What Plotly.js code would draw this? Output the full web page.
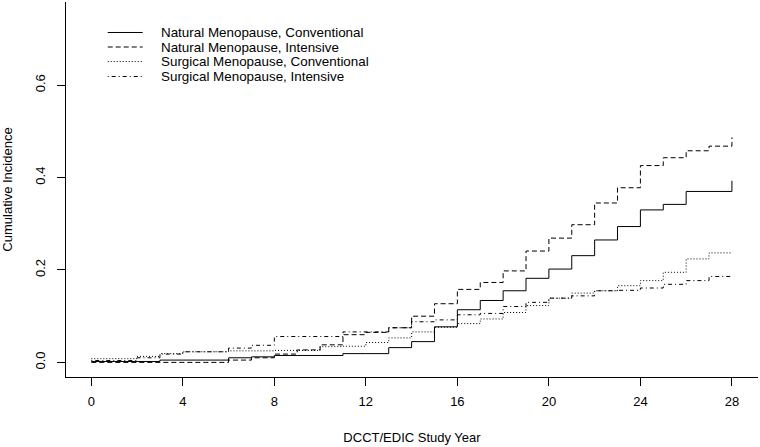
<!DOCTYPE html>
<html>
<head>
<meta charset="utf-8">
<script src="https://cdn.plot.ly/plotly-3.0.1.min.js"></script>
<style>html,body{margin:0;padding:0;background:#fff;}#chart{width:760px;height:447px;}</style>
</head>
<body>
<div id="chart"></div>
<script>
// Study years (step points)
const years = [0,1,2,3,4,5,6,7,8,9,10,11,12,13,14,15,16,17,18,19,20,21,22,23,24,25,26,27,28];
const seriesNames = [
  "Natural Menopause, Conventional",
  "Natural Menopause, Intensive",
  "Surgical Menopause, Conventional",
  "Surgical Menopause, Intensive"
];
const naturalConventional = [0.002,0.002,0.002,0.005,0.005,0.005,0.010,0.012,0.015,0.015,0.015,0.019,0.019,0.032,0.045,0.077,0.114,0.134,0.155,0.182,0.202,0.231,0.265,0.294,0.330,0.342,0.370,0.370,0.393];
const naturalIntensive = [0.000,0.000,0.000,0.000,0.000,0.000,0.005,0.010,0.018,0.027,0.038,0.060,0.065,0.075,0.100,0.127,0.158,0.173,0.198,0.241,0.269,0.298,0.345,0.378,0.426,0.443,0.458,0.468,0.487];
const surgicalConventional = [0.008,0.008,0.013,0.019,0.023,0.023,0.025,0.025,0.026,0.026,0.034,0.035,0.043,0.053,0.066,0.076,0.084,0.094,0.108,0.123,0.139,0.150,0.155,0.166,0.177,0.195,0.224,0.237,0.237];
const surgicalIntensive = [0.004,0.004,0.010,0.018,0.023,0.023,0.031,0.037,0.056,0.056,0.056,0.066,0.066,0.075,0.088,0.092,0.103,0.106,0.121,0.130,0.139,0.144,0.155,0.156,0.161,0.169,0.177,0.186,0.186];
const xTicks = [0,4,8,12,16,20,24,28];
const yTicks = [0.0,0.2,0.4,0.6];

const values = [naturalConventional, naturalIntensive, surgicalConventional, surgicalIntensive];
const dashes = ["solid", "5px,3px", "1px,2px", "1px,3px,4px,3px"];

const traces = values.map((v, i) => ({
  x: years, y: v, name: seriesNames[i], type: "scatter", mode: "lines",
  line: {shape: "hv", color: "#000", width: 1, dash: dashes[i]}
}));

const font = {family: "Liberation Sans, Arial, sans-serif", size: 13, color: "#000"};
const legendFont = {family: "Liberation Sans, Arial, sans-serif", size: 13.4, color: "#000"};

// Legend drawn in paper coordinates (keyed to the series names and dash styles)
const legendRowsY = [0.9187, 0.880, 0.8413, 0.8013];
const legendShapes = seriesNames.map((n, i) => ({
  type: "line", xref: "paper", yref: "paper",
  x0: 0.0603, x1: 0.1108, y0: legendRowsY[i], y1: legendRowsY[i],
  line: {color: "#000", width: 1, dash: dashes[i]}
}));
const legendTexts = seriesNames.map((n, i) => ({
  text: n, xref: "paper", yref: "paper", x: 0.1345, y: legendRowsY[i],
  xanchor: "left", yanchor: "middle", showarrow: false, font: legendFont
}));

const layout = {
  width: 760, height: 447,
  margin: {l: 66, r: 2, t: 2, b: 70},
  paper_bgcolor: "#fff", plot_bgcolor: "#fff",
  font: font,
  showlegend: false,
  shapes: legendShapes,
  annotations: legendTexts,
  xaxis: {
    range: [-1.106, 29.14], tickvals: xTicks, ticktext: xTicks.map(String),
    showgrid: false, zeroline: false, showline: true, linecolor: "#000", linewidth: 1,
    ticks: "outside", ticklen: 8, tickcolor: "#000", ticklabelstandoff: 4,
    title: {text: "DCCT/EDIC Study Year", font: font, standoff: 25}
  },
  yaxis: {
    range: [-0.0316, 0.780], tickvals: yTicks, ticktext: yTicks.map(v => v.toFixed(1)),
    tickangle: -90,
    showgrid: false, zeroline: false, showline: true, linecolor: "#000", linewidth: 1,
    ticks: "outside", ticklen: 8, tickcolor: "#000", ticklabelstandoff: 7,
    title: {text: "Cumulative Incidence", font: font, standoff: 18}
  }
};
Plotly.newPlot("chart", traces, layout, {displayModeBar: false, staticPlot: true});
</script>
</body>
</html>
